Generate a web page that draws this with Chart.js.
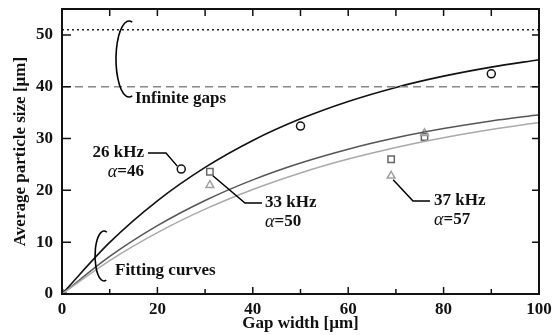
<!DOCTYPE html>
<html>
<head>
<meta charset="UTF-8">
<script src="https://cdn.jsdelivr.net/npm/chart.js@4"></script>
<style>
  html, body { margin: 0; padding: 0; background: #fff; }
  #wrap { width: 555px; height: 335px; }
</style>
</head>
<body>
<div id="wrap"><canvas id="chart" width="555" height="335"></canvas></div>
<script>
// fitting curves, every 10 um
const gapX = [0, 10, 20, 30, 40, 50, 60, 70, 80, 90, 100];
const fit26 = [0, 9.96, 17.98, 24.43, 29.63, 33.8, 37.16, 39.87, 42.04, 43.79, 45.2];
const fit33 = [0, 7.25, 13.19, 18.05, 22.03, 25.28, 27.95, 30.14, 31.92, 33.39, 34.59];
const fit37 = [0, 6.44, 11.84, 16.37, 20.17, 23.36, 26.04, 28.29, 30.17, 31.75, 33.08];

// measured points
const gap26 = [0, 25, 50, 90];
const size26 = [0, 24.1, 32.4, 42.5];
const gap33 = [0, 31, 69, 76];
const size33 = [0, 23.6, 26, 30.3];
const gap37 = [0, 31, 69, 76];
const size37 = [0, 21, 22.8, 31];

// infinite-gap limits
const limit26 = 51;
const limitOther = 40;

const xTicks = [0, 20, 40, 60, 80, 100];
const yTicks = [0, 10, 20, 30, 40, 50];

const SERIF = "'Liberation Serif', 'DejaVu Serif', serif";

const pts = (xs, ys) => xs.map((x, i) => ({ x: x, y: ys[i] }));

const annotations = {
  id: "annotations",
  afterDraw(chart) {
    const ctx = chart.ctx;
    const xs = chart.scales.x, ys = chart.scales.y;
    const a = chart.chartArea;
    const px = v => xs.getPixelForValue(v);
    const py = v => ys.getPixelForValue(v);

    ctx.save();
    ctx.strokeStyle = "#111";
    ctx.lineWidth = 2;
    ctx.strokeRect(a.left, a.top, a.right - a.left, a.bottom - a.top);

    // ticks pointing inwards
    ctx.lineWidth = 1.5;
    ctx.beginPath();
    for (let v = 10; v < 100; v += 10) {
      const x = px(v);
      const len = v % 20 === 0 ? 7 : 5;
      ctx.moveTo(x, a.bottom); ctx.lineTo(x, a.bottom - len);
      ctx.moveTo(x, a.top); ctx.lineTo(x, a.top + 7);
    }
    for (let v = 10; v <= 50; v += 10) {
      const y = py(v);
      ctx.moveTo(a.left, y); ctx.lineTo(a.left + 9, y);
      ctx.moveTo(a.right, y); ctx.lineTo(a.right - 7, y);
    }
    ctx.stroke();

    // brackets
    ctx.lineWidth = 1.6;
    ctx.strokeStyle = "#000";
    ctx.beginPath();
    ctx.ellipse(129, 59, 13, 38, 0, -Math.PI * 0.42, Math.PI * 0.42, true);
    ctx.stroke();
    ctx.beginPath();
    ctx.ellipse(104, 256, 9, 25, 0, -Math.PI * 0.4, Math.PI * 0.42, true);
    ctx.stroke();

    // leader lines
    ctx.lineWidth = 1.5;
    ctx.beginPath();
    ctx.moveTo(148, 153); ctx.lineTo(166, 153); ctx.lineTo(px(gap26[1]) - 4, py(size26[1]) - 3);
    ctx.moveTo(px(gap33[1]) + 3, py(size33[1]) + 4); ctx.lineTo(245, 203); ctx.lineTo(262, 203);
    ctx.moveTo(px(gap37[2]) + 2, py(size37[2]) + 4); ctx.lineTo(413, 201); ctx.lineTo(430, 201);
    ctx.stroke();

    // text
    ctx.fillStyle = "#111";
    ctx.textBaseline = "middle";
    const bold = "bold 17px " + SERIF;
    const ital = "italic 18px " + SERIF;
    ctx.font = bold;
    ctx.textAlign = "left";
    ctx.fillText("Infinite gaps", 135, 99);
    ctx.fillText("Fitting curves", 115, 271);

    const label = (x, y, top, alpha, align) => {
      ctx.font = bold;
      const w1 = ctx.measureText(top).width;
      ctx.font = ital;
      const wa = ctx.measureText("\u03b1").width;
      ctx.font = bold;
      const wn = ctx.measureText(alpha).width;
      let x1 = x, x2 = x;
      if (align === "right") { x1 = x - w1; x2 = x - wa - wn; }
      ctx.textAlign = "left";
      ctx.fillText(top, x1, y);
      ctx.font = ital;
      ctx.fillText("\u03b1", x2, y + 19);
      ctx.font = bold;
      ctx.fillText(alpha, x2 + wa, y + 19);
    };
    label(144, 153, "26 kHz", "=46", "right");
    label(265, 203, "33 kHz", "=50", "left");
    label(434, 201, "37 kHz", "=57", "left");
    ctx.restore();
  }
};

new Chart(document.getElementById("chart"), {
  type: "scatter",
  data: {
    datasets: [
      {
        data: [{ x: 0, y: limit26 }, { x: 100, y: limit26 }],
        showLine: true, borderColor: "#222", borderWidth: 1.4, borderDash: [2, 3], pointRadius: 0
      },
      {
        data: [{ x: 0, y: limitOther }, { x: 100, y: limitOther }],
        showLine: true, borderColor: "#888", borderWidth: 1.4, borderDash: [8, 5], pointRadius: 0
      },
      {
        data: pts(gapX, fit37), showLine: true, borderColor: "#aaa", borderWidth: 1.5,
        cubicInterpolationMode: "monotone", pointRadius: 0
      },
      {
        data: pts(gapX, fit33), showLine: true, borderColor: "#555", borderWidth: 1.5,
        cubicInterpolationMode: "monotone", pointRadius: 0
      },
      {
        data: pts(gapX, fit26), showLine: true, borderColor: "#111", borderWidth: 1.6,
        cubicInterpolationMode: "monotone", pointRadius: 0
      },
      {
        data: pts(gap37, size37), pointStyle: "triangle", pointRadius: 4.5,
        borderColor: "#a0a0a0", backgroundColor: "rgba(255,255,255,0)", borderWidth: 1.5
      },
      {
        data: pts(gap33, size33), pointStyle: "rect", pointRadius: 4.5,
        borderColor: "#666", backgroundColor: "rgba(255,255,255,0)", borderWidth: 1.5
      },
      {
        data: pts(gap26, size26), pointStyle: "circle", pointRadius: 4,
        borderColor: "#111", backgroundColor: "rgba(255,255,255,0)", borderWidth: 1.5
      }
    ]
  },
  options: {
    responsive: false,
    animation: false,
    layout: { padding: { top: 9, right: 16, left: 0, bottom: 0 } },
    plugins: { legend: { display: false }, tooltip: { enabled: false } },
    scales: {
      x: {
        type: "linear", min: 0, max: 100,
        grid: { display: false, drawTicks: false },
        border: { display: false },
        afterBuildTicks: s => { s.ticks = xTicks.map(v => ({ value: v })); },
        afterFit: s => { s.height = 41; s.paddingLeft = 0; s.paddingRight = 0; },
        ticks: { color: "#111", padding: 5, maxRotation: 0, font: { family: SERIF, size: 17, weight: "bold" } },
        title: {
          display: true, text: "Gap width [\u00b5m]", color: "#111", padding: { top: 0, bottom: 1 },
          font: { family: SERIF, size: 17, weight: "bold" }
        }
      },
      y: {
        type: "linear", min: 0, max: 55,
        grid: { display: false, drawTicks: false },
        border: { display: false },
        afterBuildTicks: s => { s.ticks = yTicks.map(v => ({ value: v })); },
        afterFit: s => { s.width = 62; s.paddingTop = 0; s.paddingBottom = 0; },
        ticks: { color: "#111", padding: 9, font: { family: SERIF, size: 17, weight: "bold" } },
        title: {
          display: true, text: "Average particle size [\u00b5m]", color: "#111", padding: { top: 10, bottom: 0 },
          font: { family: SERIF, size: 17, weight: "bold" }
        }
      }
    }
  },
  plugins: [annotations]
});
</script>
</body>
</html>
